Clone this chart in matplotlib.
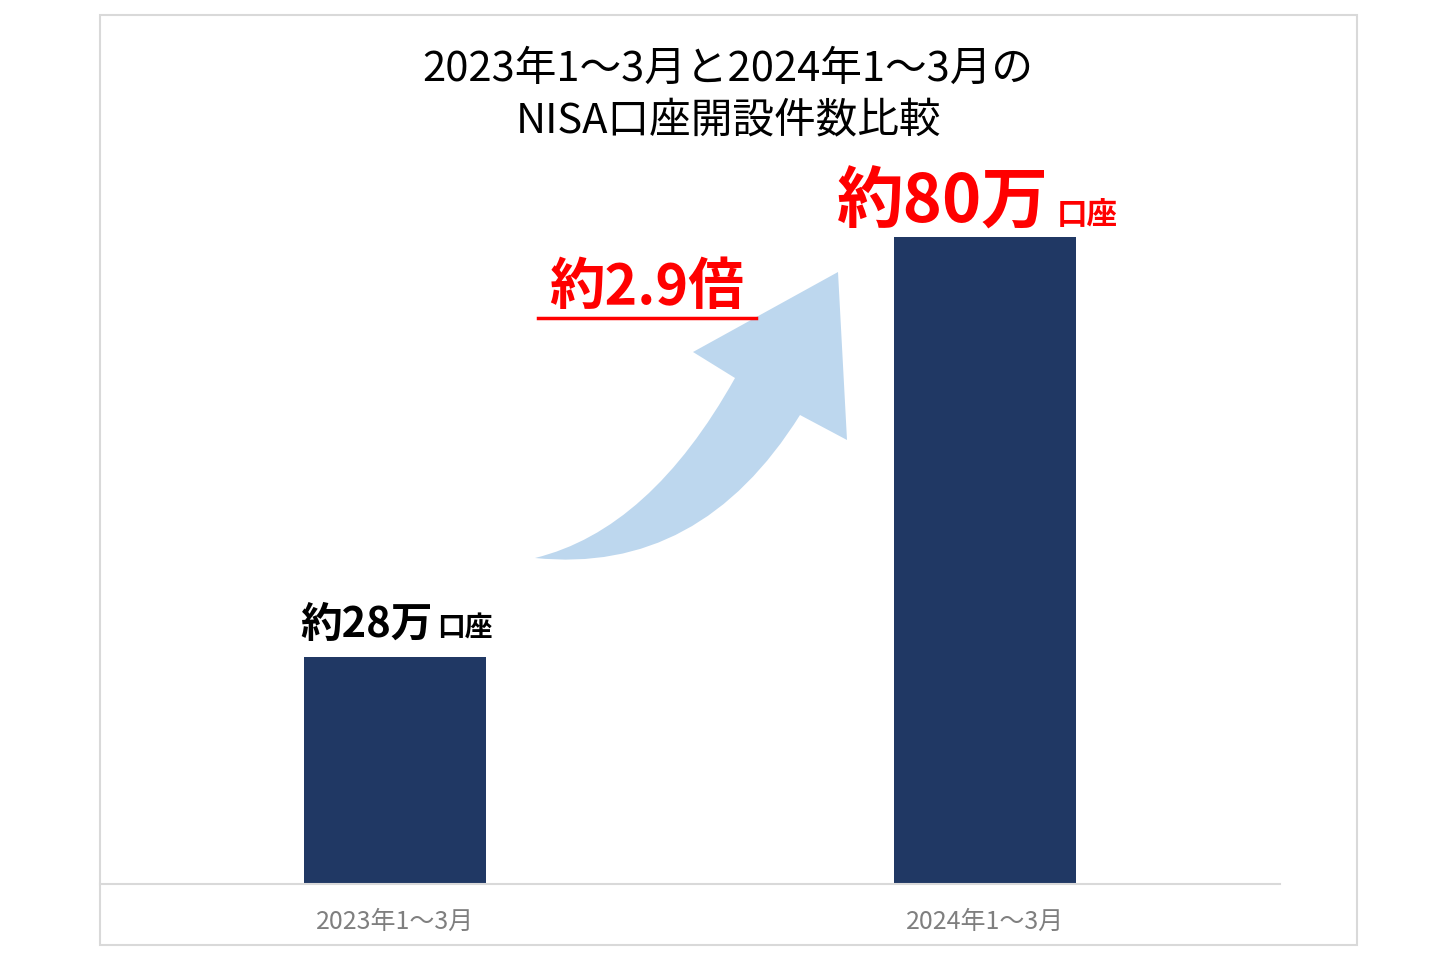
import matplotlib
matplotlib.use("Agg")
import matplotlib.pyplot as plt
from matplotlib.patches import Rectangle, PathPatch
from matplotlib.path import Path

plt.rcParams['font.family'] = ['Noto Sans CJK JP', 'DejaVu Sans']

categories = ['2023年1～3月', '2024年1～3月']
values = [28, 80]  # 万口座
labels_main = ['約28万', '約80万']
ratio_label = '約2.9倍'
title = '2023年1～3月と2024年1～3月の\nNISA口座開設件数比較'

W, H = 1440, 960
fig = plt.figure(figsize=(14.4, 9.6), dpi=100)
fig.patch.set_facecolor('white')

def fp(px, py):
    # pixel position (from top-left) -> figure fraction
    return (px / W, 1 - py / H)

# outer frame
fig.patches.append(Rectangle((100 / W, 15 / H), 1257 / W, 930 / H, transform=fig.transFigure,
                             fill=False, edgecolor='#d9d9d9', linewidth=1.5))

ax = fig.add_axes([100 / W, 76 / H, 1180 / W, 874 / H])
x = range(len(categories))
ax.bar(x, values, width=0.31, color='#203864')
ax.set_xlim(-0.5, 1.5)
ax.set_ylim(0, 108)
ax.set_xticks(list(x))
ax.set_xticklabels(categories, fontsize=18, color='#7f7f7f')
ax.tick_params(axis='x', length=0, pad=18)
ax.set_yticks([])
for s in ['top', 'right', 'left']:
    ax.spines[s].set_visible(False)
ax.spines['bottom'].set_color('#d9d9d9')
ax.spines['bottom'].set_linewidth(1.5)
ax.patch.set_alpha(0)

# value labels
ax.annotate(labels_main[0], (0, values[0]), xytext=(27, 8), textcoords='offset points',
            ha='right', va='bottom', fontsize=30, fontweight='bold', color='black')
ax.annotate('口座', (0, values[0]), xytext=(30, 11), textcoords='offset points',
            ha='left', va='bottom', fontsize=20, fontweight='bold', color='black')
ax.annotate(labels_main[1], (1, values[1]), xytext=(46, 0), textcoords='offset points',
            ha='right', va='bottom', fontsize=48, fontweight='bold', color='#ff0000')
ax.annotate('口座', (1, values[1]), xytext=(52, 4), textcoords='offset points',
            ha='left', va='bottom', fontsize=22, fontweight='bold', color='#ff0000')

fig.text(728 / W, 1 - 95 / H, title, ha='center', va='center', fontsize=30,
         linespacing=1.35, color='black')

# growth arrow (curved band widening towards the head)
verts = [fp(535, 558), fp(700, 575), fp(800, 415), fp(847, 440), fp(838, 272),
         fp(693, 352), fp(735, 378), fp(650, 530), fp(535, 558)]
codes = [Path.MOVETO, Path.CURVE3, Path.CURVE3, Path.LINETO, Path.LINETO,
         Path.LINETO, Path.LINETO, Path.CURVE3, Path.CURVE3]
fig.patches.append(PathPatch(Path(verts, codes), transform=fig.transFigure,
                             facecolor='#bdd7ee', edgecolor='none'))

fig.text(647 / W, 1 - 288 / H, ratio_label, ha='center', va='center', fontsize=40,
         fontweight='bold', color='#ff0000')
fig.add_artist(plt.Line2D([538 / W, 756 / W], [1 - 318 / H, 1 - 318 / H],
                          transform=fig.transFigure, color='#ff0000', linewidth=2.5))

fig.savefig('out.png', dpi=100)
